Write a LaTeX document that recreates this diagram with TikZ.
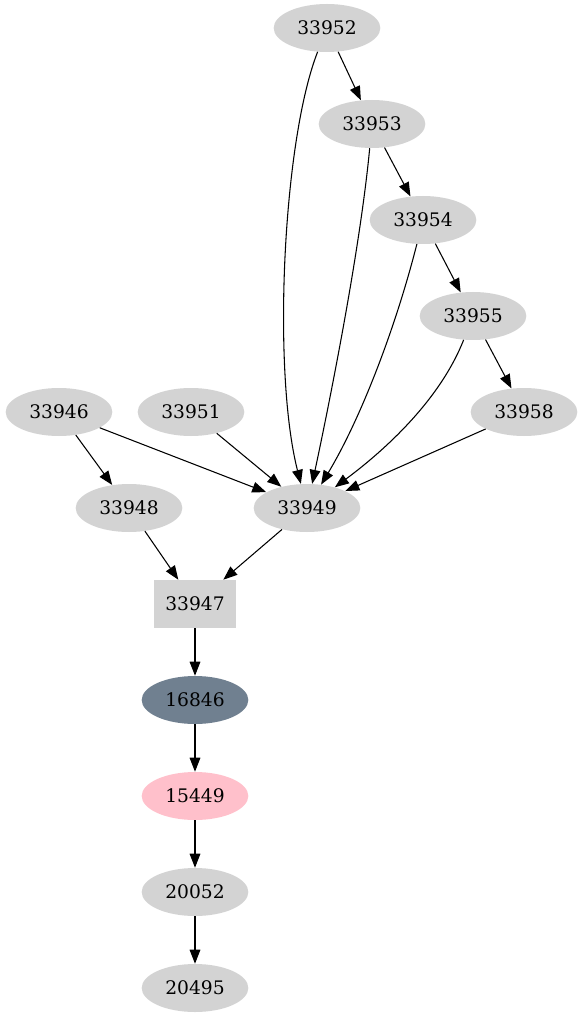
\documentclass[tikz,border=0pt]{standalone}
\usepackage{fontspec}
\setmainfont{DejaVu Serif}
\usepackage{tikz}
\usetikzlibrary{shapes.geometric,arrows.meta}

\definecolor{nodegray}{HTML}{D3D3D3}
\definecolor{slategray}{HTML}{708090}
\definecolor{pinkfill}{HTML}{FFC0CB}

\begin{document}
\begin{tikzpicture}[x=0.75pt, y=-0.75pt,
    vert/.style={ellipse, fill=nodegray, minimum width=80pt, minimum height=36pt, inner sep=0pt, font=\fontsize{14}{16}\selectfont},
    vbox/.style={rectangle, fill=nodegray, minimum width=62pt, minimum height=36pt, inner sep=0pt, font=\fontsize{14}{16}\selectfont},
    edge/.style={line width=0.8pt, -{Triangle[length=10.5pt, width=8pt]}}]
            \useasboundingbox (0,0) rectangle (583,1019);

            % Define vertices
            \node[vert] (n33952) at (327,28) {33952};
            \node[vert] (n33953) at (372,124) {33953};
            \node[vert] (n33954) at (423,220) {33954};
            \node[vert] (n33955) at (473,316) {33955};
            \node[vert] (n33946) at (59,412) {33946};
            \node[vert] (n33951) at (191,412) {33951};
            \node[vert] (n33958) at (524,412) {33958};
            \node[vert] (n33948) at (129,508) {33948};
            \node[vert] (n33949) at (307,508) {33949};
            \node[vbox] (n33947) at (195,604) {33947};
            \node[vert, fill=slategray] (n16846) at (195,700) {16846};
            \node[vert, fill=pinkfill] (n15449) at (195,796) {15449};
            \node[vert] (n20052) at (195,892) {20052};
            \node[vert] (n20495) at (195,988) {20495};

            % Draw edges with arrows
            \draw[edge] (n33952) -- (n33953);
            \draw[edge] (n33953) -- (n33954);
            \draw[edge] (n33954) -- (n33955);
            \draw[edge] (n33955) -- (n33958);
            \draw[edge] (n33952) .. controls (283,140) and (272,370) .. (n33949);
            \draw[edge] (n33953) .. controls (360,250) and (330,400) .. (n33949);
            \draw[edge] (n33954) .. controls (395,330) and (360,420) .. (n33949);
            \draw[edge] (n33955) .. controls (440,400) and (385,450) .. (n33949);
            \draw[edge] (n33958) -- (n33949);
            \draw[edge] (n33946) -- (n33949);
            \draw[edge] (n33951) -- (n33949);
            \draw[edge] (n33946) -- (n33948);
            \draw[edge] (n33948) -- (n33947);
            \draw[edge] (n33949) -- (n33947);
            \draw[edge] (n33947) -- (n16846);
            \draw[edge] (n16846) -- (n15449);
            \draw[edge] (n15449) -- (n20052);
            \draw[edge] (n20052) -- (n20495);
        \end{tikzpicture}
\end{document}
